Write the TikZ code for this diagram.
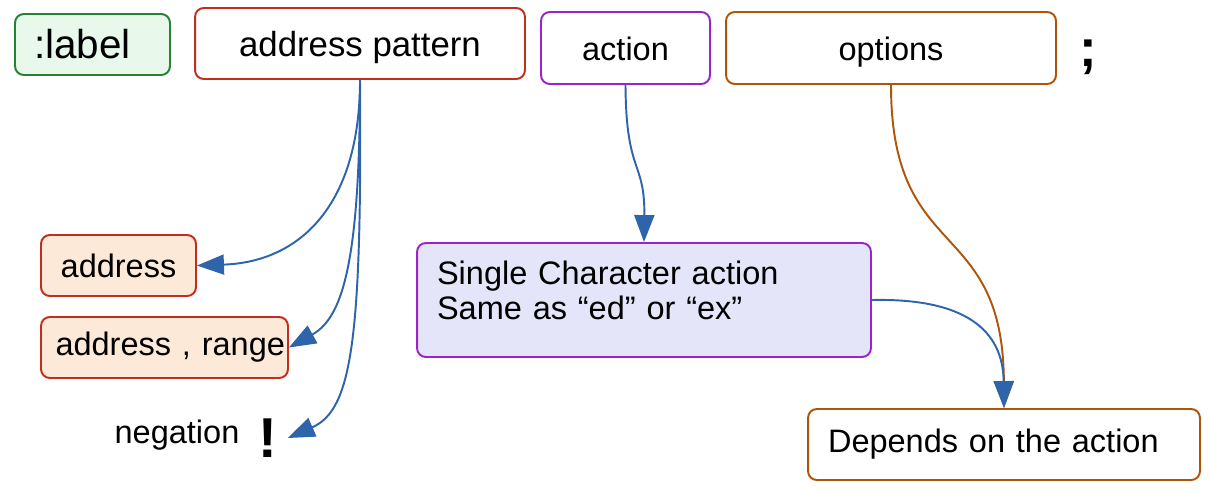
\documentclass[tikz,border=0pt]{standalone}
\usepackage{fontspec}
\setmainfont{Liberation Sans}
\usepackage{xcolor}
\usepackage{tikz}
\usetikzlibrary{arrows.meta}
\definecolor{Leaf}{RGB}{38, 130, 50}
\definecolor{LeafFill}{RGB}{232, 248, 234}
\definecolor{Brick}{RGB}{195, 45, 30}
\definecolor{Peach}{RGB}{252, 233, 216}
\definecolor{Violet}{RGB}{155, 35, 205}
\definecolor{Lavender}{RGB}{229, 229, 250}
\definecolor{Rust}{RGB}{175, 85, 10}
\definecolor{Cobalt}{RGB}{45, 100, 170}

\begin{document}
\begin{tikzpicture}[
    x=0.02cm, y=-0.02cm,
    box/.style={draw, rounded corners=5pt, line width=1.1pt,
                minimum height=1.42cm,
                font=\fontsize{18.5}{20}\selectfont},
    topbox/.style={box, text height=14pt, text depth=0pt},
    leftbox/.style={box, align=left, inner xsep=0.4cm},
    sym/.style={font=\bfseries\fontsize{32}{32}\selectfont, inner sep=1pt},
    arr/.style={-{Triangle[length=0.54cm, width=0.4cm]}, line width=1.1pt, Cobalt}
    ]
    \useasboundingbox (0,0) rectangle (1210,491);

    % top row
    \node[leftbox, draw=Leaf, fill=LeafFill, text width=2.34cm, inner xsep=0.38cm,
          minimum height=1.22cm, font=\fontsize{23}{26}\selectfont] (lbl) at (92.5,44.5) {:label};
    \node[topbox, draw=Brick, fill=white, minimum width=6.6cm, text height=15pt,
          font=\fontsize{19.8}{22}\selectfont] (addrpat) at (360,43.5) {address pattern};
    \node[topbox, draw=Violet, fill=white, minimum width=3.38cm, minimum height=1.44cm] (act) at (625.5,48) {action};
    \node[topbox, draw=Rust, fill=white, minimum width=6.6cm, minimum height=1.44cm] (opts) at (891,48) {options};
    \node[sym, font=\bfseries\fontsize{30}{30}\selectfont] (semi) at (1088,57) {;};

    % address forms
    \node[box, draw=Brick, fill=Peach, minimum width=3.1cm, minimum height=1.22cm] (addr) at (118.5,265.5) {address};
    \node[box, draw=Brick, fill=Peach, text width=4.82cm, inner xsep=0.06cm, align=right,
          minimum height=1.22cm] (addrrange) at (164.5,347.5) {address , range};
    \node[font=\fontsize{18.5}{21}\selectfont] (neg) at (177,435) {negation};
    \node[sym, inner xsep=0.2cm] (excl) at (268,438) {!};

    % action / options results
    \node[leftbox, draw=Violet, fill=Lavender, text width=8.28cm, minimum height=2.28cm]
          (single) at (644,300) {Single Character action\\Same as “ed” or “ex”\\[-9pt]\mbox{}};
    \node[leftbox, draw=Rust, fill=white, text width=7.04cm] (dep) at (1004,444.5) {Depends on the action};

    \foreach \dst/\ax/\ay/\bx/\by in {addr/360/205/300/262, addrrange/360/265/342/318, excl/362/340/352/410}
      \draw[arr] (addrpat.south) .. controls (\ax,\ay) and (\bx,\by) .. (\dst.east);

    \draw[arr] (act.south) .. controls (626,175) and (645,160) .. (single.north);
    \draw[arr, Rust] (opts.south) .. controls (891,265) and (1003,215) .. (dep.north);
    \draw[arr] (single.east) .. controls (965,298) and (1003,330) .. (dep.north);
  \end{tikzpicture}
\end{document}
